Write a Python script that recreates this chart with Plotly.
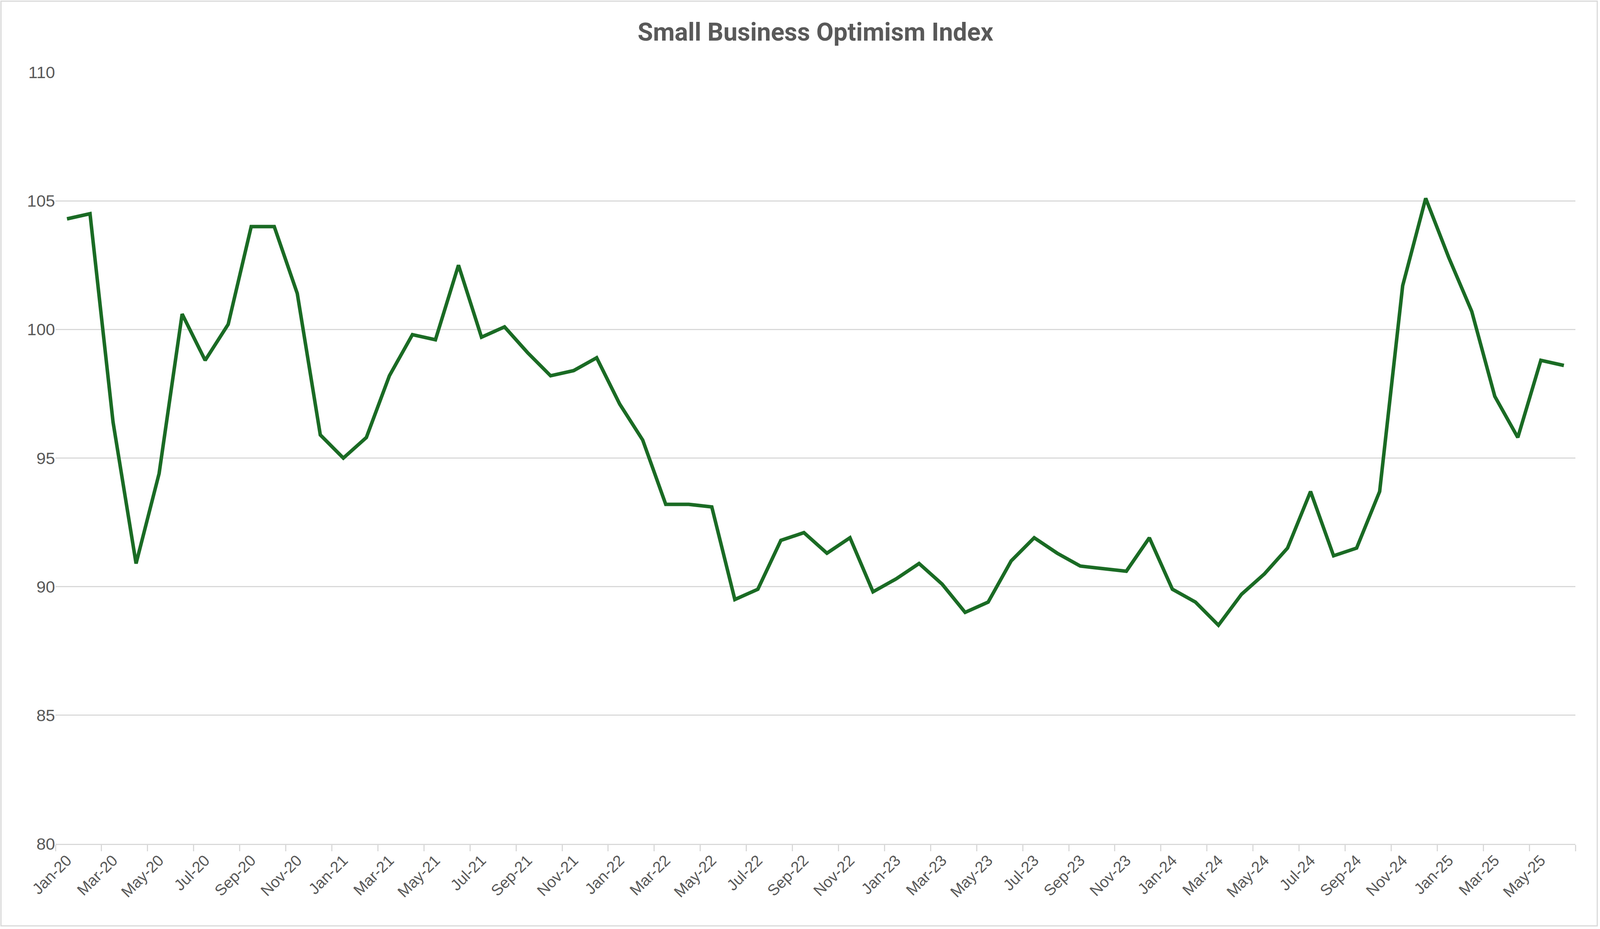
import plotly.graph_objects as go

months = ["Jan", "Feb", "Mar", "Apr", "May", "Jun", "Jul", "Aug", "Sep", "Oct", "Nov", "Dec"]
years = ["20", "21", "22", "23", "24", "25"]
categories = [f"{m}-{y}" for y in years for m in months][:66]

values = [
    104.3, 104.5, 96.4, 90.9, 94.4, 100.6, 98.8, 100.2, 104.0, 104.0, 101.4, 95.9,
    95.0, 95.8, 98.2, 99.8, 99.6, 102.5, 99.7, 100.1, 99.1, 98.2, 98.4, 98.9,
    97.1, 95.7, 93.2, 93.2, 93.1, 89.5, 89.9, 91.8, 92.1, 91.3, 91.9, 89.8,
    90.3, 90.9, 90.1, 89.0, 89.4, 91.0, 91.9, 91.3, 90.8, 90.7, 90.6, 91.9,
    89.9, 89.4, 88.5, 89.7, 90.5, 91.5, 93.7, 91.2, 91.5, 93.7, 101.7, 105.1,
    102.8, 100.7, 97.4, 95.8, 98.8, 98.6,
]

y_ticks = [80, 85, 90, 95, 100, 105, 110]
title_text = "Small Business Optimism Index"

idx = list(range(len(categories)))
label_vals = idx[::2]
label_text = categories[::2]
boundary_ticks = [i - 0.5 for i in range(0, len(categories) + 1, 2)]

W, H = 4464, 2378
L, R, T, B = 155, 69, 185, 218
pw, ph = W - L - R, H - T - B
STANDOFF = 45

fig = go.Figure()
fig.add_trace(go.Scatter(
    x=idx, y=values, mode="lines",
    line=dict(color="#1a6b24", width=9),
    hoverinfo="skip", showlegend=False,
))

font_fam = "Liberation Sans, Arial, sans-serif"
fig.update_layout(
    width=W, height=H,
    margin=dict(l=L, r=R, t=T, b=B),
    paper_bgcolor="white", plot_bgcolor="white",
    title=dict(
        text="<b>" + title_text + "</b>",
        x=0.5, xanchor="center", xref="paper",
        y=1 - 82 / H, yanchor="middle", yref="container",
        font=dict(family="Liberation Sans Narrow, Roboto, Arial Narrow, sans-serif", size=64, color="#595959"),
    ),
    xaxis=dict(
        range=[-0.5, len(categories) - 0.5],
        tickmode="array", tickvals=label_vals, ticktext=label_text,
        tickangle=-45, ticks="", showgrid=False, zeroline=False,
        showline=True, linecolor="#d9d9d9", linewidth=3,
        tickfont=dict(family=font_fam, size=40, color="#595959"),
        minor=dict(tickmode="array", tickvals=boundary_ticks, ticks="outside",
                   ticklen=16, tickwidth=3, tickcolor="#d9d9d9", showgrid=False),
        fixedrange=True,
    ),
    yaxis=dict(
        range=[80, 110], tickmode="array", tickvals=y_ticks,
        showgrid=True, gridcolor="#d9d9d9", gridwidth=3,
        zeroline=False, showline=False, ticks="",
        ticklabelstandoff=STANDOFF,
        tickfont=dict(family=font_fam, size=43, color="#595959"),
        fixedrange=True,
    ),
    shapes=[dict(
        type="rect", xref="paper", yref="paper",
        x0=(3 - L) / pw, x1=(4456 - L) / pw,
        y0=(H - B - 2370) / ph, y1=(H - B - 3) / ph,
        line=dict(color="#d9d9d9", width=3), fillcolor="rgba(0,0,0,0)", layer="below",
    )],
)

# Fit the figure to the browser viewport width if it is narrower than the design width.
fit = f"""
document.body.style.margin = '0';
document.body.style.overflow = 'hidden';
var gd = document.getElementById('{{plot_id}}');
var s = Math.min(1, window.innerWidth / {W});
if (s < 1) {{
  Plotly.relayout(gd, {{
    'width': Math.floor({W} * s),
    'margin.l': {L} * s,
    'margin.r': {R} * s,
    'yaxis.ticklabelstandoff': {STANDOFF} * s
  }});
}}
"""
fig.write_html("out.html", post_script=fit, config={"displayModeBar": False})
